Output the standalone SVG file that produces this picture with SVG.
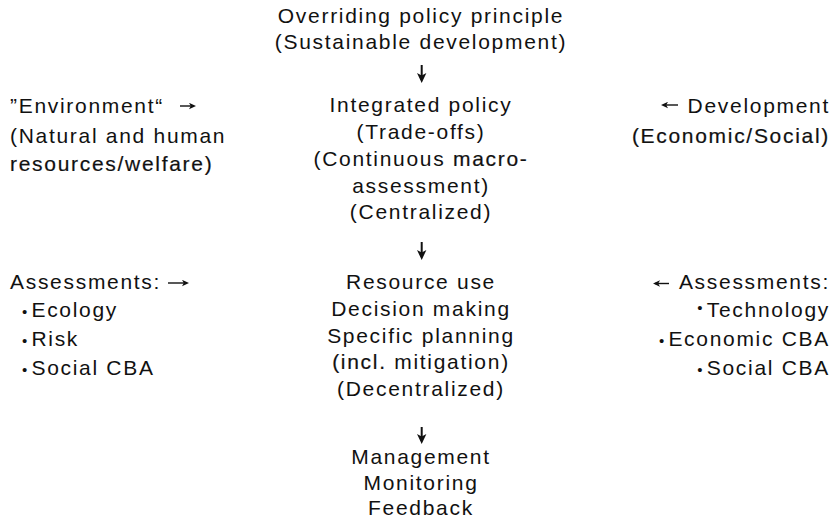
<svg xmlns="http://www.w3.org/2000/svg" width="839" height="527" viewBox="0 0 839 527">
  <style>
    text { font-family: "Liberation Sans", Arial, sans-serif; font-size: 21px; letter-spacing: 1.7px; fill: #111; }
    .c { text-anchor: middle; }
    .r { text-anchor: end; }
    .b { font-size: 15px; letter-spacing: 0; }
    .ink { stroke: #111; stroke-width: 0.2; }
    .flow { fill: none; stroke: #111; stroke-width: 2; }
    .side { fill: none; stroke: #111; stroke-width: 1.4; }
  </style>
  <defs>
    <marker id="headDown" markerUnits="userSpaceOnUse" markerWidth="10" markerHeight="10" viewBox="0 0 10 10" refX="7" refY="5" orient="auto">
      <path d="M0,0.3 L10,5 L0,9.7 L2.5,5 z" fill="#111"/>
    </marker>
    <marker id="headSide" markerUnits="userSpaceOnUse" markerWidth="7" markerHeight="7" viewBox="0 0 7 7" refX="5" refY="3.5" orient="auto">
      <path d="M0,0.3 L7,3.5 L0,6.7 L1.8,3.5 z" fill="#111"/>
    </marker>
  </defs>

  <!-- top: overriding principle -->
  <g id="principle">
    <text class="c" x="421" y="22.7">Overriding policy principle</text>
    <text class="c" x="421" y="49.3">(Sustainable development)</text>
  </g>

  <!-- integrated policy level -->
  <g id="integrated-policy">
    <text class="c" x="421" y="112.3">Integrated policy</text>
    <text class="c" x="421" y="139">(Trade-offs)</text>
    <text class="c" x="421" y="166">(Continuous <tspan class="ink">macro-</tspan></text>
    <text class="c" x="421" y="192.7">assessment)</text>
    <text class="c" x="421" y="219.3">(Centralized)</text>
  </g>

  <g id="environment">
    <text x="10" y="113.3">”Environment“</text>
    <text x="10" y="142.7">(Natural and human</text>
    <text class="ink" x="10" y="170.7">resources/welfare)</text>
  </g>

  <g id="development">
    <text class="r" x="830" y="113.3">Development</text>
    <text class="r ink" x="830" y="143.3">(Economic/Social)</text>
  </g>

  <!-- resource use level -->
  <g id="resource-use">
    <text class="c" x="421" y="289.3">Resource use</text>
    <text class="c" x="421" y="316">Decision making</text>
    <text class="c" x="421" y="342.7">Specific planning</text>
    <text class="c" x="421" y="369.3"><tspan class="ink">(incl.</tspan> mitigation)</text>
    <text class="c" x="421" y="396">(Decentralized)</text>
  </g>

  <g id="assessments-left">
    <text x="10" y="289.3">Assessments:</text>
    <text x="22" y="316.7"><tspan class="b">• </tspan>Ecology</text>
    <text x="22" y="346"><tspan class="b">• </tspan>Risk</text>
    <text x="22" y="375"><tspan class="b">• </tspan>Social CBA</text>
  </g>

  <g id="assessments-right">
    <text class="r" x="830" y="289.3">Assessments:</text>
    <text class="r" x="830" y="317.3"><tspan class="b" baseline-shift="4">• </tspan>Technology</text>
    <text class="r" x="830" y="346"><tspan class="b">• </tspan>Economic CBA</text>
    <text class="r" x="830" y="375"><tspan class="b">• </tspan>Social CBA</text>
  </g>

  <!-- management level -->
  <g id="management">
    <text class="c" x="421" y="464.3">Management</text>
    <text class="c" x="421" y="490.3">Monitoring</text>
    <text class="c" x="421" y="515">Feedback</text>
  </g>

  <!-- connectors -->
  <g id="connectors">
    <path class="flow" d="M421.7,65 V80" marker-end="url(#headDown)"/>
    <path class="flow" d="M421.7,242 V257" marker-end="url(#headDown)"/>
    <path class="flow" d="M421.7,427 V441" marker-end="url(#headDown)"/>
    <path class="side" d="M180,106 H194" marker-end="url(#headSide)"/>
    <path class="side" d="M168,283 H187" marker-end="url(#headSide)"/>
    <path class="side" d="M678,105 H663" marker-end="url(#headSide)"/>
    <path class="side" d="M669,283.5 H655" marker-end="url(#headSide)"/>
  </g>
</svg>
